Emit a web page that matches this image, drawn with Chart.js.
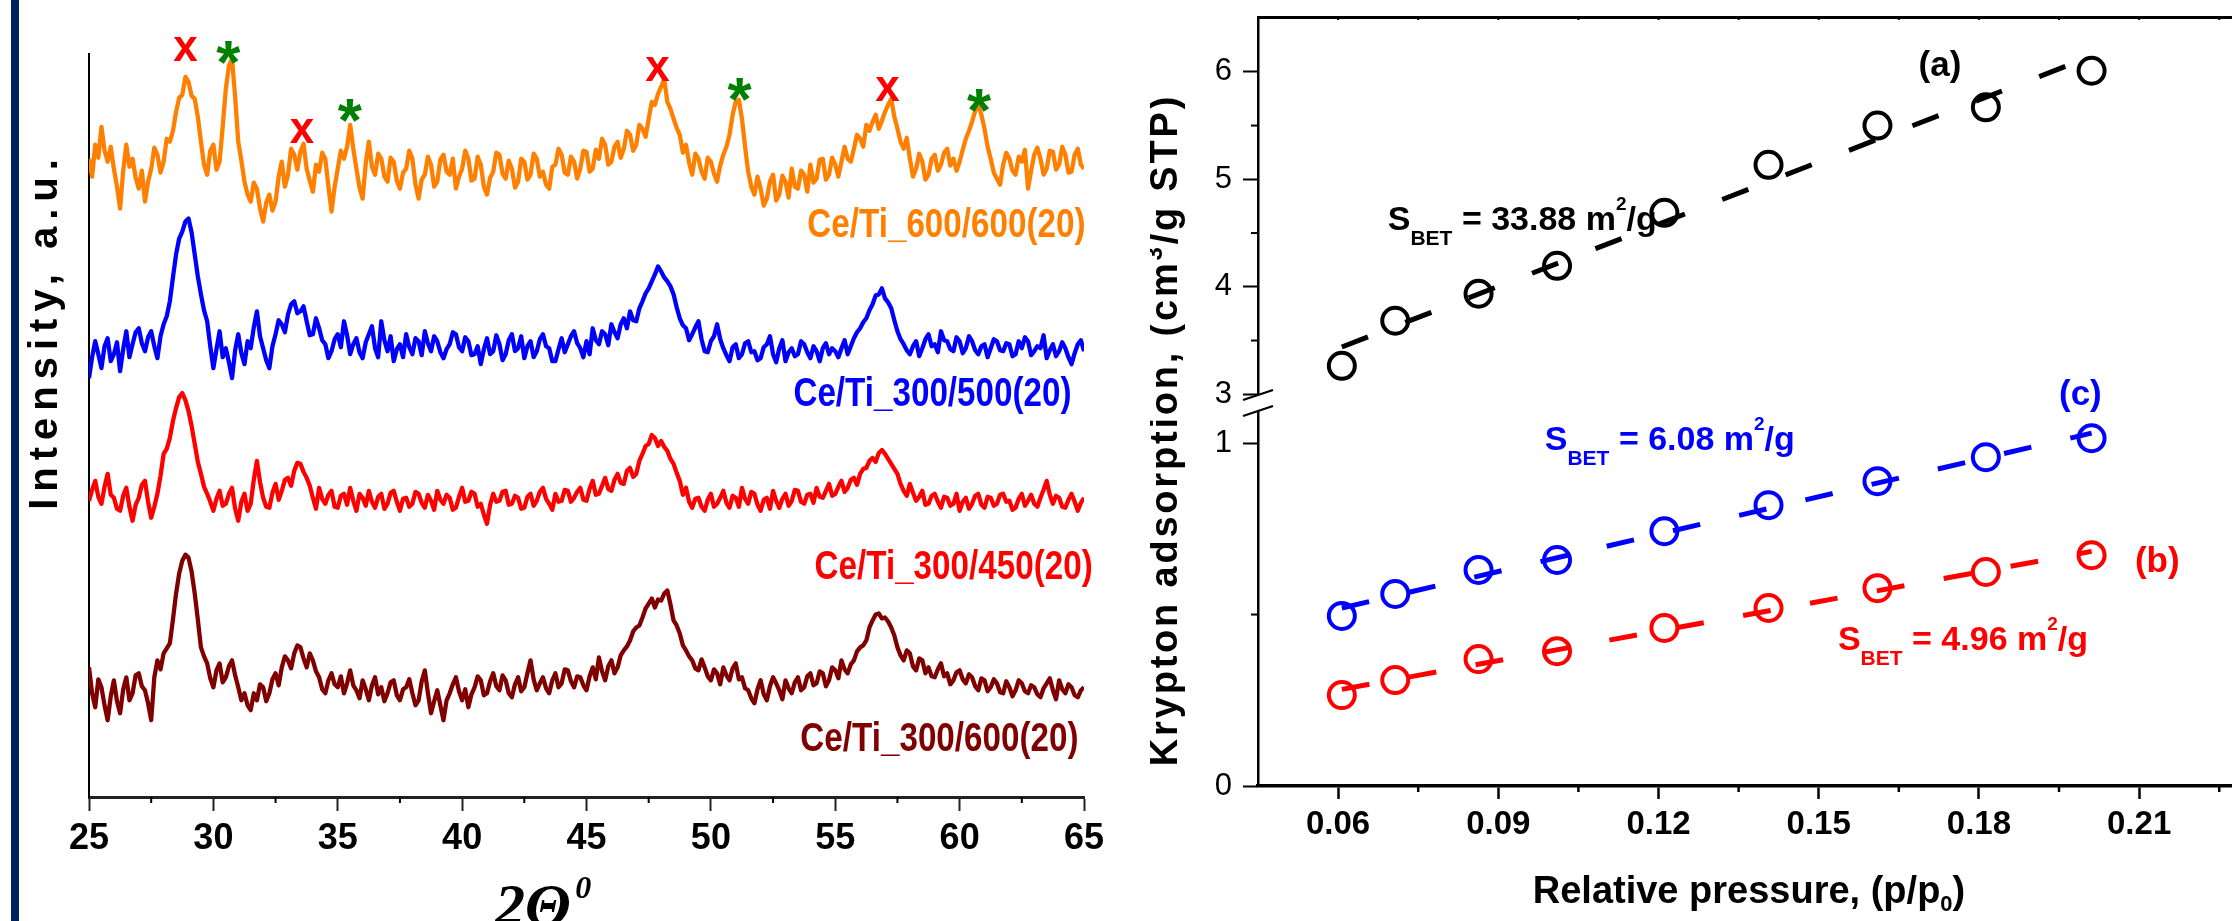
<!DOCTYPE html>
<html><head><meta charset="utf-8">
<script src="https://cdn.jsdelivr.net/npm/chart.js@4.4.1/dist/chart.umd.min.js"></script>
<style>
html,body{margin:0;padding:0;background:#fff;overflow:hidden;width:2232px;height:921px;position:relative;}
#leftWrap{position:absolute;left:0;top:0;width:1120px;height:921px;}
#rightWrap{position:absolute;left:1150px;top:0;width:1100px;height:921px;}
#bar{position:absolute;left:11px;top:0;width:8px;height:921px;background:#002060;}
</style></head>
<body>
<div id="leftWrap"><canvas id="xrd" width="1120" height="921"></canvas></div>
<div id="rightWrap"><canvas id="kr" width="1100" height="921"></canvas></div>
<div id="bar"></div>
<script>
// ---------------- DATA: XRD patterns (2θ scan 25–65°, step 0.125°), stacked intensities (a.u.) ----------------
const scanStart = 25, scanStep = 0.125;
const xrdMinorTicks = [27.5, 32.5, 37.5, 42.5, 47.5, 52.5, 57.5, 62.5];
const seriesNames = ['Ce/Ti_600/600(20)', 'Ce/Ti_300/500(20)', 'Ce/Ti_300/450(20)', 'Ce/Ti_300/600(20)'];
const seriesColors = ['#FF8000', '#0000FF', '#FF0000', '#800000'];
const ce600_600 = [
640,622,654,641,672,648,637,652,630,612,590,628,654,632,640,621,610,628,597,617,630,651,644,626,637,660,657,668,687,701,704,722,717,703,700,682,657,634,624,648,
654,629,637,672,710,733,740,702,657,638,617,604,597,616,610,590,577,596,604,588,597,622,637,612,624,650,644,629,647,655,630,618,607,634,627,646,640,612,587,612,
630,648,640,652,674,650,630,611,600,635,657,632,624,645,640,622,617,641,637,618,610,626,630,648,640,614,600,619,624,642,634,612,617,639,644,627,624,640,610,622,
630,648,640,618,620,642,634,612,604,621,627,646,644,625,620,638,630,611,617,640,637,619,624,645,640,622,627,614,610,632,634,650,644,626,624,642,637,620,630,648,
647,627,630,649,640,660,654,634,637,652,657,641,650,668,664,648,654,674,670,662,680,697,694,705,712,720,697,690,680,671,664,646,654,636,624,645,640,627,620,641,
637,625,617,633,644,652,664,684,697,699,680,652,627,612,604,622,610,593,600,617,624,598,604,623,617,601,630,612,610,628,624,607,634,616,620,639,640,619,624,641,
634,622,637,652,640,637,650,664,660,652,674,668,677,684,670,678,687,694,700,682,670,657,650,661,640,622,630,645,637,619,624,640,644,628,634,646,650,633,640,628,
637,649,660,668,677,688,694,684,670,652,640,626,620,614,634,646,640,628,624,642,637,649,610,628,644,651,640,624,630,648,647,629,634,652,644,626,627,644,650,634,
630];
const ce300_500 = [
420,441,457,444,430,452,460,437,444,456,427,449,467,441,454,466,470,455,447,461,467,452,440,462,474,482,497,521,544,560,567,577,580,566,544,522,504,488,477,452,
430,449,467,441,450,436,420,448,464,445,434,457,450,471,487,462,450,438,430,452,464,478,474,466,484,494,497,485,487,492,477,463,464,480,470,458,454,440,447,459,
464,451,477,463,444,454,460,446,440,456,464,472,450,441,477,458,447,462,437,449,454,441,464,451,444,460,457,443,467,455,447,462,457,446,440,449,454,466,464,451,
447,461,457,443,444,452,434,449,460,444,447,463,454,438,444,458,464,447,450,462,440,452,457,441,447,459,464,452,450,437,437,449,460,446,454,462,467,455,450,441,
457,444,470,458,454,467,464,453,474,466,460,474,480,470,487,478,477,490,497,505,510,517,524,532,527,521,517,512,504,491,480,473,470,458,464,471,477,459,447,446,
457,462,474,459,450,443,437,451,454,440,444,455,457,446,447,438,440,451,454,462,444,436,450,458,437,446,450,442,444,457,454,446,440,452,447,437,450,455,444,450,
447,441,450,458,444,452,460,466,470,476,480,488,494,503,504,510,500,496,490,478,467,459,454,448,444,452,457,442,450,459,464,452,454,446,467,458,457,449,447,461,
457,445,450,462,457,448,444,452,454,441,450,459,457,448,447,455,454,442,444,457,450,461,457,443,447,452,450,463,440,448,454,442,447,456,450,441,434,445,454,458,
447];
const ce300_450 = [
297,308,317,301,294,311,324,303,300,289,287,302,310,291,277,293,300,313,317,296,280,291,304,322,344,349,360,377,390,401,405,398,387,372,354,336,324,311,304,296,
287,299,307,292,294,304,310,289,277,296,304,287,294,318,337,316,300,291,290,305,314,298,307,318,320,312,327,335,334,326,320,312,300,289,310,299,294,303,307,291,
290,302,304,293,310,297,287,304,300,292,307,296,290,301,304,289,294,305,307,296,287,299,300,291,294,306,304,295,290,303,297,288,307,298,294,303,300,288,290,301,
310,296,297,306,304,291,294,283,274,293,304,296,297,306,307,293,294,302,300,289,290,301,304,292,297,306,310,299,294,288,304,296,297,308,307,296,300,306,310,298,
297,309,317,303,304,312,320,309,307,318,324,315,314,327,330,321,324,337,344,352,354,363,360,352,357,351,347,339,334,325,317,303,310,296,290,299,300,291,287,298,
304,291,294,300,307,295,290,302,300,291,310,299,294,306,304,293,287,298,300,289,307,297,290,299,304,292,297,308,307,296,294,303,304,295,310,301,300,307,314,302,
304,311,317,306,310,318,320,313,324,329,330,337,340,336,345,348,344,339,334,329,324,314,307,302,314,305,297,301,307,293,294,302,304,296,290,301,300,292,294,304,
287,296,300,289,294,302,304,293,290,301,300,292,294,303,304,296,297,288,290,299,304,292,297,303,294,291,300,308,317,303,294,302,300,291,290,298,304,296,287,295,
300];
const ce300_600 = [
130,104,90,118,110,92,77,101,117,96,84,108,120,97,104,122,124,111,107,94,77,120,137,128,144,149,154,178,204,224,237,243,240,226,204,178,150,141,134,119,
110,127,134,115,120,131,137,122,110,97,104,92,87,104,97,113,110,96,104,118,124,112,130,141,137,129,144,152,150,139,130,144,137,126,120,108,104,117,124,113,
110,121,104,114,127,112,107,99,117,108,97,112,120,103,110,96,104,115,117,102,97,108,110,118,104,92,97,116,127,104,84,96,107,92,77,97,104,113,120,106,
97,108,90,103,110,121,117,102,104,116,124,111,107,122,117,104,100,113,120,106,110,124,137,118,107,114,120,109,104,117,124,110,114,128,127,116,110,121,120,112,
107,121,130,118,140,126,117,131,137,124,130,142,147,151,157,166,170,172,180,189,194,199,190,198,197,204,207,193,177,172,164,152,147,141,137,129,127,138,130,121,
117,128,124,113,130,122,117,129,134,118,120,109,107,99,94,108,117,103,97,111,120,114,107,98,117,109,104,115,120,107,110,121,124,112,114,126,124,111,117,130,
127,119,137,128,124,133,137,146,150,152,157,170,177,183,184,179,180,176,170,162,150,142,137,147,144,131,127,139,137,124,130,121,120,128,134,121,124,113,117,125,
127,118,114,123,120,111,107,119,117,106,110,118,114,105,104,116,110,101,107,117,114,106,104,112,110,103,100,109,114,119,107,98,117,108,104,113,110,102,100,107,
110];
const xrdValues = [ce600_600, ce300_500, ce300_450, ce300_600];
// peak assignments: 'x' (red) and '*' (green), at 2θ and intensity level
const markXdeg = [28.88, 33.56, 47.85, 57.1];
const markXlev = [749, 667, 729, 709];
const markSdeg = [30.6, 35.49, 51.15, 60.78];
const markSlev = [752, 694, 715, 704];

// ---------------- DATA: Krypton adsorption ----------------
const relPressure = [0.0607, 0.0707, 0.0863, 0.101, 0.1211, 0.1406, 0.161, 0.1813, 0.2011];
const krA = [3.265, 3.684, 3.935, 4.195, 4.688, 5.135, 5.50, 5.67, 6.01];
const krC = [0.496, 0.56, 0.63, 0.659, 0.743, 0.819, 0.889, 0.959, 1.014];
const krB = [0.265, 0.309, 0.37, 0.393, 0.461, 0.519, 0.577, 0.624, 0.673];
const krColors = ['#000000', '#0000FF', '#FF0000'];
const krXMinor = [0.075, 0.105, 0.135, 0.165, 0.195, 0.225];
const krTopMinor = [0.06, 0.075, 0.09, 0.105, 0.12, 0.135, 0.15, 0.165, 0.18, 0.195, 0.21, 0.225];
const krYHighMinor = [3.5, 4.5, 5.5];
const krYLowMinor = [0.5];

// ---------------- helpers ----------------
const SANS = '"Liberation Sans", Arial, Helvetica, sans-serif';
const SERIF = '"Liberation Serif", "Times New Roman", serif';
function noPad(s) { s.paddingTop = 0; s.paddingBottom = 0; s.paddingLeft = 0; s.paddingRight = 0; }
function drawRich(ctx, parts, x, y, align, color) {
  let total = 0;
  parts.forEach(p => { ctx.font = p.f; p.w = ctx.measureText(p.t).width; total += p.w; });
  let cx = align === 'center' ? x - total / 2 : (align === 'right' ? x - total : x);
  ctx.textAlign = 'left'; ctx.textBaseline = 'alphabetic'; ctx.fillStyle = color;
  parts.forEach(p => { ctx.font = p.f; ctx.fillText(p.t, cx, y + (p.dy || 0)); cx += p.w; });
}
function drawRotRich(ctx, parts, cx, cy, color, spacing, dy) {
  ctx.save(); ctx.translate(cx, cy); ctx.rotate(-Math.PI / 2);
  try { ctx.letterSpacing = spacing + 'px'; } catch (e) {}
  drawRich(ctx, parts, 0, dy, 'center', color);
  ctx.restore();
}
function minorX(ctx, scale, vals, len, w, dir) {
  ctx.save(); ctx.strokeStyle = '#000'; ctx.lineWidth = w;
  const y0 = dir > 0 ? scale.top : scale.bottom;
  vals.forEach(v => { const p = scale.getPixelForValue(v); ctx.beginPath(); ctx.moveTo(p, y0); ctx.lineTo(p, y0 + dir * len); ctx.stroke(); });
  ctx.restore();
}
function minorY(ctx, scale, vals, len, w) {
  ctx.save(); ctx.strokeStyle = '#000'; ctx.lineWidth = w;
  vals.forEach(v => { const p = scale.getPixelForValue(v); ctx.beginPath(); ctx.moveTo(scale.right, p); ctx.lineTo(scale.right - len, p); ctx.stroke(); });
  ctx.restore();
}
function sbet(value) {
  return [
    {t: 'S', f: 'bold 34px ' + SANS},
    {t: 'BET', f: 'bold 21px ' + SANS, dy: 15},
    {t: ' = ' + value + ' m', f: 'bold 34px ' + SANS},
    {t: '2', f: 'bold 19px ' + SANS, dy: -20},
    {t: '/g', f: 'bold 34px ' + SANS}
  ];
}

// ---------------- left chart: XRD ----------------
const xrdDecor = {
  id: 'xrdDecor',
  afterDraw(chart) {
    const ctx = chart.ctx, xs = chart.scales.x, ys = chart.scales.y;
    minorX(ctx, xs, xrdMinorTicks, 6, 2, 1);
    ctx.save();
    ctx.textAlign = 'center'; ctx.textBaseline = 'alphabetic';
    ctx.fillStyle = '#FF0000'; ctx.font = 'bold 44px ' + SANS;
    markXdeg.forEach((d, i) => ctx.fillText('x', xs.getPixelForValue(d), ys.getPixelForValue(markXlev[i]) + 11));
    ctx.fillStyle = '#008000'; ctx.font = 'bold 62px ' + SANS;
    markSdeg.forEach((d, i) => ctx.fillText('*', xs.getPixelForValue(d), ys.getPixelForValue(markSlev[i]) + 36));
    const labDeg = [65.06, 64.5, 65.35, 64.78];
    const labLev = [573, 403, 230, 57];
    ctx.font = 'bold 41px ' + SANS; ctx.textAlign = 'right'; ctx.textBaseline = 'middle';
    seriesNames.forEach((n, i) => {
      ctx.save();
      ctx.translate(xs.getPixelForValue(labDeg[i]), ys.getPixelForValue(labLev[i]));
      ctx.scale(0.81, 1);
      ctx.fillStyle = seriesColors[i]; ctx.fillText(n, 0, 0);
      ctx.restore();
    });
    ctx.restore();
    drawRotRich(ctx, [{t: 'Intensity, a.u.', f: 'bold 40px ' + SANS}], 43, 331, '#000', 7, 14);
    drawRich(ctx, [{t: '2Θ', f: 'italic bold 60px ' + SERIF}, {t: ' ', f: 'italic bold 18px ' + SERIF}, {t: '0', f: 'italic bold 32px ' + SERIF, dy: -27}],
      495, 925, 'left', '#000');
  }
};

new Chart(document.getElementById('xrd'), {
  type: 'line',
  data: {
    datasets: xrdValues.map((vals, k) => ({
      label: seriesNames[k],
      data: vals.map((v, i) => ({x: scanStart + i * scanStep, y: v})),
      borderColor: seriesColors[k], borderWidth: 4.3, pointRadius: 0, tension: 0, fill: false,
      borderJoinStyle: 'round'
    }))
  },
  options: {
    responsive: false, animation: false, events: [],
    layout: {padding: {left: 0, right: 36, top: 54, bottom: 0}},
    plugins: {legend: {display: false}, tooltip: {enabled: false}},
    scales: {
      x: {
        type: 'linear', min: 25, max: 65, position: 'bottom',
        border: {display: true, color: '#222', width: 3},
        grid: {display: true, drawOnChartArea: false, drawTicks: true, tickLength: 14, tickWidth: 2, tickColor: '#222'},
        ticks: {stepSize: 5, includeBounds: false, autoSkip: false, maxRotation: 0, padding: 6, color: '#000',
                font: {family: SANS, size: 36, weight: 'bold'}},
        afterFit(s) { s.height = 124; noPad(s); }
      },
      y: {
        type: 'linear', min: 0, max: 745,
        border: {display: true, color: '#000', width: 2},
        grid: {display: false}, ticks: {display: false},
        afterFit(s) { s.width = 89; noPad(s); }
      }
    }
  },
  plugins: [xrdDecor]
});

// ---------------- right chart: Krypton adsorption ----------------
function linFit(xs, ys) {
  const n = xs.length; let sx = 0, sy = 0, sxx = 0, sxy = 0;
  for (let i = 0; i < n; i++) { sx += xs[i]; sy += ys[i]; sxx += xs[i] * xs[i]; sxy += xs[i] * ys[i]; }
  const m = (n * sxy - sx * sy) / (n * sxx - sx * sx);
  const b = (sy - m * sx) / n;
  return x => m * x + b;
}
const krSets = [{ys: krA, axis: 'yHigh'}, {ys: krC, axis: 'yLow'}, {ys: krB, axis: 'yLow'}];
const krDatasets = [];
krSets.forEach((s, k) => {
  const f = linFit(relPressure, s.ys);
  const x0 = relPressure[0], x1 = relPressure[relPressure.length - 1];
  krDatasets.push({type: 'line', data: [{x: x0, y: f(x0)}, {x: x1, y: f(x1)}], yAxisID: s.axis,
    borderColor: krColors[k], borderWidth: 5, borderDash: [28, 40], pointRadius: 0, fill: false, tension: 0, borderCapStyle: 'butt'});
});
krSets.forEach((s, k) => {
  krDatasets.push({type: 'scatter', data: relPressure.map((x, i) => ({x, y: s.ys[i]})), yAxisID: s.axis,
    showLine: false, pointStyle: 'circle', pointRadius: 13, pointBorderWidth: 4,
    pointBorderColor: krColors[k], pointBackgroundColor: 'rgba(0,0,0,0)', borderColor: krColors[k]});
});

const krDecor = {
  id: 'krDecor',
  afterDraw(chart) {
    const ctx = chart.ctx, xs = chart.scales.x, yH = chart.scales.yHigh, yL = chart.scales.yLow;
    minorX(ctx, xs, krXMinor, 6, 2.5, 1);
    minorX(ctx, chart.scales.xTop, krTopMinor, 3, 2, 1);
    minorY(ctx, yH, krYHighMinor, 7, 2);
    minorY(ctx, yL, krYLowMinor, 7, 2);
    const ax = yL.right, b = yH.bottom;
    ctx.save();
    ctx.fillStyle = '#fff'; ctx.fillRect(ax - 4, b - 10, 8, 16);
    ctx.strokeStyle = '#000'; ctx.lineWidth = 2.2;
    ctx.beginPath(); ctx.moveTo(ax - 15, b - 5); ctx.lineTo(ax + 15, b - 15); ctx.stroke();
    ctx.beginPath(); ctx.moveTo(ax - 15, b + 11); ctx.lineTo(ax + 15, b + 1); ctx.stroke();
    ctx.restore();
    ctx.save();
    ctx.textAlign = 'center'; ctx.textBaseline = 'middle'; ctx.font = 'bold 35px ' + SANS;
    ctx.fillStyle = '#000'; ctx.fillText('(a)', xs.getPixelForValue(0.1727), yH.getPixelForValue(6.054));
    ctx.fillStyle = '#0000FF'; ctx.fillText('(c)', xs.getPixelForValue(0.199), yL.getPixelForValue(1.14));
    ctx.fillStyle = '#FF0000'; ctx.fillText('(b)', xs.getPixelForValue(0.2134), yL.getPixelForValue(0.653));
    ctx.restore();
    drawRich(ctx, sbet('33.88'), xs.getPixelForValue(0.0693), yH.getPixelForValue(4.53), 'left', '#000');
    drawRich(ctx, sbet('6.08'), xs.getPixelForValue(0.0987), yL.getPixelForValue(0.98), 'left', '#0000FF');
    drawRich(ctx, sbet('4.96'), xs.getPixelForValue(0.1536), yL.getPixelForValue(0.397), 'left', '#FF0000');
    drawRich(ctx, [{t: 'Relative pressure, (p/p', f: 'bold 38px ' + SANS}, {t: '0', f: 'bold 22px ' + SANS, dy: 8}, {t: ')', f: 'bold 38px ' + SANS}],
      1749 - 1150, 903, 'center', '#000');
    drawRotRich(ctx, [{t: 'Krypton adsorption, (cm', f: 'bold 38px ' + SANS}, {t: '3', f: 'bold 24px ' + SANS, dy: -15}, {t: '/g STP)', f: 'bold 38px ' + SANS}],
      14, 430, '#000', 2.8, 13);
  }
};

const yTickFont = {family: SANS, size: 31, weight: 'normal'};
new Chart(document.getElementById('kr'), {
  type: 'scatter',
  data: {datasets: krDatasets},
  options: {
    responsive: false, animation: false, events: [],
    layout: {padding: {left: 0, right: 0, top: 17, bottom: 0}},
    plugins: {legend: {display: false}, tooltip: {enabled: false}},
    scales: {
      x: {
        type: 'linear', position: 'bottom', min: 0.045, max: 0.22758,
        border: {display: true, color: '#000', width: 3.5},
        grid: {display: true, drawOnChartArea: false, tickLength: 13, tickWidth: 2.5, tickColor: '#000'},
        ticks: {stepSize: 0.03, includeBounds: false, autoSkip: false, maxRotation: 0, padding: 6, color: '#000',
                font: {family: SANS, size: 33, weight: 'bold'}, callback: v => Number(v).toFixed(2)},
        afterFit(s) { s.height = 135; noPad(s); }
      },
      xTop: {
        type: 'linear', position: 'top', min: 0.045, max: 0.22758,
        border: {display: true, color: '#000', width: 3},
        grid: {display: false}, ticks: {display: false},
        afterFit(s) { s.height = 0; noPad(s); }
      },
      yLow: {
        type: 'linear', position: 'left', stack: 'kr', stackWeight: 381, min: 0, max: 1.111,
        border: {display: true, color: '#000', width: 2.5},
        grid: {display: true, drawOnChartArea: false, tickLength: 15, tickWidth: 2, tickColor: '#000'},
        ticks: {stepSize: 1, includeBounds: false, padding: 11, color: '#000', font: yTickFont},
        afterFit(s) { s.width = 108; noPad(s); }
      },
      yHigh: {
        type: 'linear', position: 'left', stack: 'kr', stackWeight: 388, min: 2.90, max: 6.51,
        border: {display: true, color: '#000', width: 2.5},
        grid: {display: true, drawOnChartArea: false, tickLength: 15, tickWidth: 2, tickColor: '#000'},
        ticks: {stepSize: 1, includeBounds: false, padding: 11, color: '#000', font: yTickFont},
        afterFit(s) { s.width = 108; noPad(s); }
      }
    }
  },
  plugins: [krDecor]
});
</script>
</body></html>
